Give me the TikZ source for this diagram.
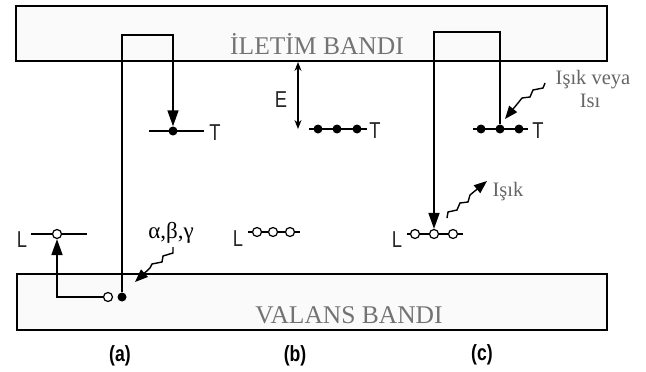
\documentclass[tikz,border=0pt]{standalone}
\usepackage{fontspec}
\setmainfont{Liberation Serif}
\newfontfamily\labfont[FakeStretch=0.8]{Liberation Sans}
\usetikzlibrary{arrows.meta}
\begin{document}
\begin{tikzpicture}[x=1pt,y=-1pt,
  band/.style={draw=black,line width=1.5pt,fill=gray!4},
  bandtext/.style={text=black!55,font=\fontsize{25.5}{28}\selectfont},
  lvl/.style={line width=1.5pt},
  full/.style={circle,fill=black,inner sep=0pt,minimum size=9pt},
  hole/.style={circle,draw=black,fill=white,line width=1.2pt,inner sep=0pt,minimum size=9pt},
  arr/.style={line width=1.6pt,-{Triangle[length=16pt,width=11pt]}},
  zig/.style={line width=1.4pt,-{Triangle[length=13pt,width=10pt]}},
  lab/.style={font=\labfont\fontsize{23}{26}\selectfont,text=black!85,inner sep=0pt},
  caplab/.style={font=\labfont\bfseries\fontsize{22}{24}\selectfont,inner sep=0pt},
  serlab/.style={font=\fontsize{20.5}{22}\selectfont,text=black!60,inner sep=0pt}
]
\useasboundingbox (0,0) rectangle (646,372);
% bands
\draw[band] (16,6) rectangle (607,61);
\draw[band] (17,274) rectangle (607,330);
\node[bandtext] (cb) at (317,44) {İLETİM BANDI};
\node[bandtext] (vb) at (349,315) {VALANS BANDI};

% ---------- (a)
\draw[lvl] (149,131) -- (204,131);
\node[full] (aT) at (173,131) {};
\node[lab] (aTl) at (215,133) {T};
\draw[lvl] (31,234) -- (87,234);
\node[hole] (aL) at (57,234) {};
\node[lab] (aLl) at (22,240) {L};
\node[full] (aV) at (122,297) {};
\node[hole] (aH) at (108,297) {};
\coordinate (ta) at (147,35);
\draw[arr] (aV) |- (ta) -| (aT);
\draw[arr] (aH) -| (aL);
\node[font=\fontsize{23}{24}\selectfont,inner sep=0pt] (abg) at (171,233) {α,β,γ};
\coordinate (za) at (173,247);
\coordinate (zaE) at (135,282);
\draw[zig] (za) -- (173,253) -- (163,256) -- (162,262) -- (152,264) -- (150,268) -- (zaE);
\node[caplab] (la) at (120,356) {(a)};

% ---------- (b)
\draw[lvl] (309,129) -- (367,129);
\node[full] (bT1) at (318,129) {};
\node[full] (bT2) at (337,129) {};
\node[full] (bT3) at (357,129) {};
\node[lab] (bTl) at (375,131) {T};
\draw[lvl] (248,232) -- (300,232);
\node[hole] (bL1) at (257,232) {};
\node[hole] (bL2) at (273,232) {};
\node[hole] (bL3) at (290,232) {};
\node[lab] (bLl) at (238,239) {L};
\coordinate (eTop) at (298,62);
\coordinate (eBot) at (298,129);
\draw[line width=1.2pt,{Stealth[length=9pt,width=7pt]}-{Stealth[length=9pt,width=7pt]}] (eTop) -- (eBot);
\node[lab] (El) at (281,100) {E};
\node[caplab] (lb) at (295,356) {(b)};

% ---------- (c)
\draw[lvl] (473,129) -- (528,129);
\node[full] (cT1) at (481,129) {};
\node[full] (cT) at (500,129) {};
\node[full] (cT3) at (519,129) {};
\node[lab] (cTl) at (538,131) {T};
\draw[lvl] (407,234) -- (463,234);
\node[hole] (cL1) at (415,234) {};
\node[hole] (cL) at (434,234) {};
\node[hole] (cL3) at (453,234) {};
\node[lab] (cLl) at (397,240) {L};
\coordinate (tc) at (467,32);
\draw[arr] (cT) |- (tc) -| (cL);
\node[serlab] (iv1) at (593,80) {Işık veya};
\node[serlab] (iv2) at (590,101) {Isı};
\coordinate (zc) at (545,83);
\coordinate (zcE) at (505,119);
\draw[zig] (zc) -- (543,88) -- (533,90) -- (530,97) -- (522,98) -- (518,103) -- (zcE);
\node[serlab] (ik) at (508,192) {Işık};
\coordinate (zi) at (447,218);
\coordinate (ziE) at (487,181);
\draw[zig] (zi) -- (448,212) -- (457,210) -- (460,203) -- (468,202) -- (470,195) -- (ziE);
\node[caplab] (lc) at (482,355) {(c)};
\end{tikzpicture}
\end{document}
